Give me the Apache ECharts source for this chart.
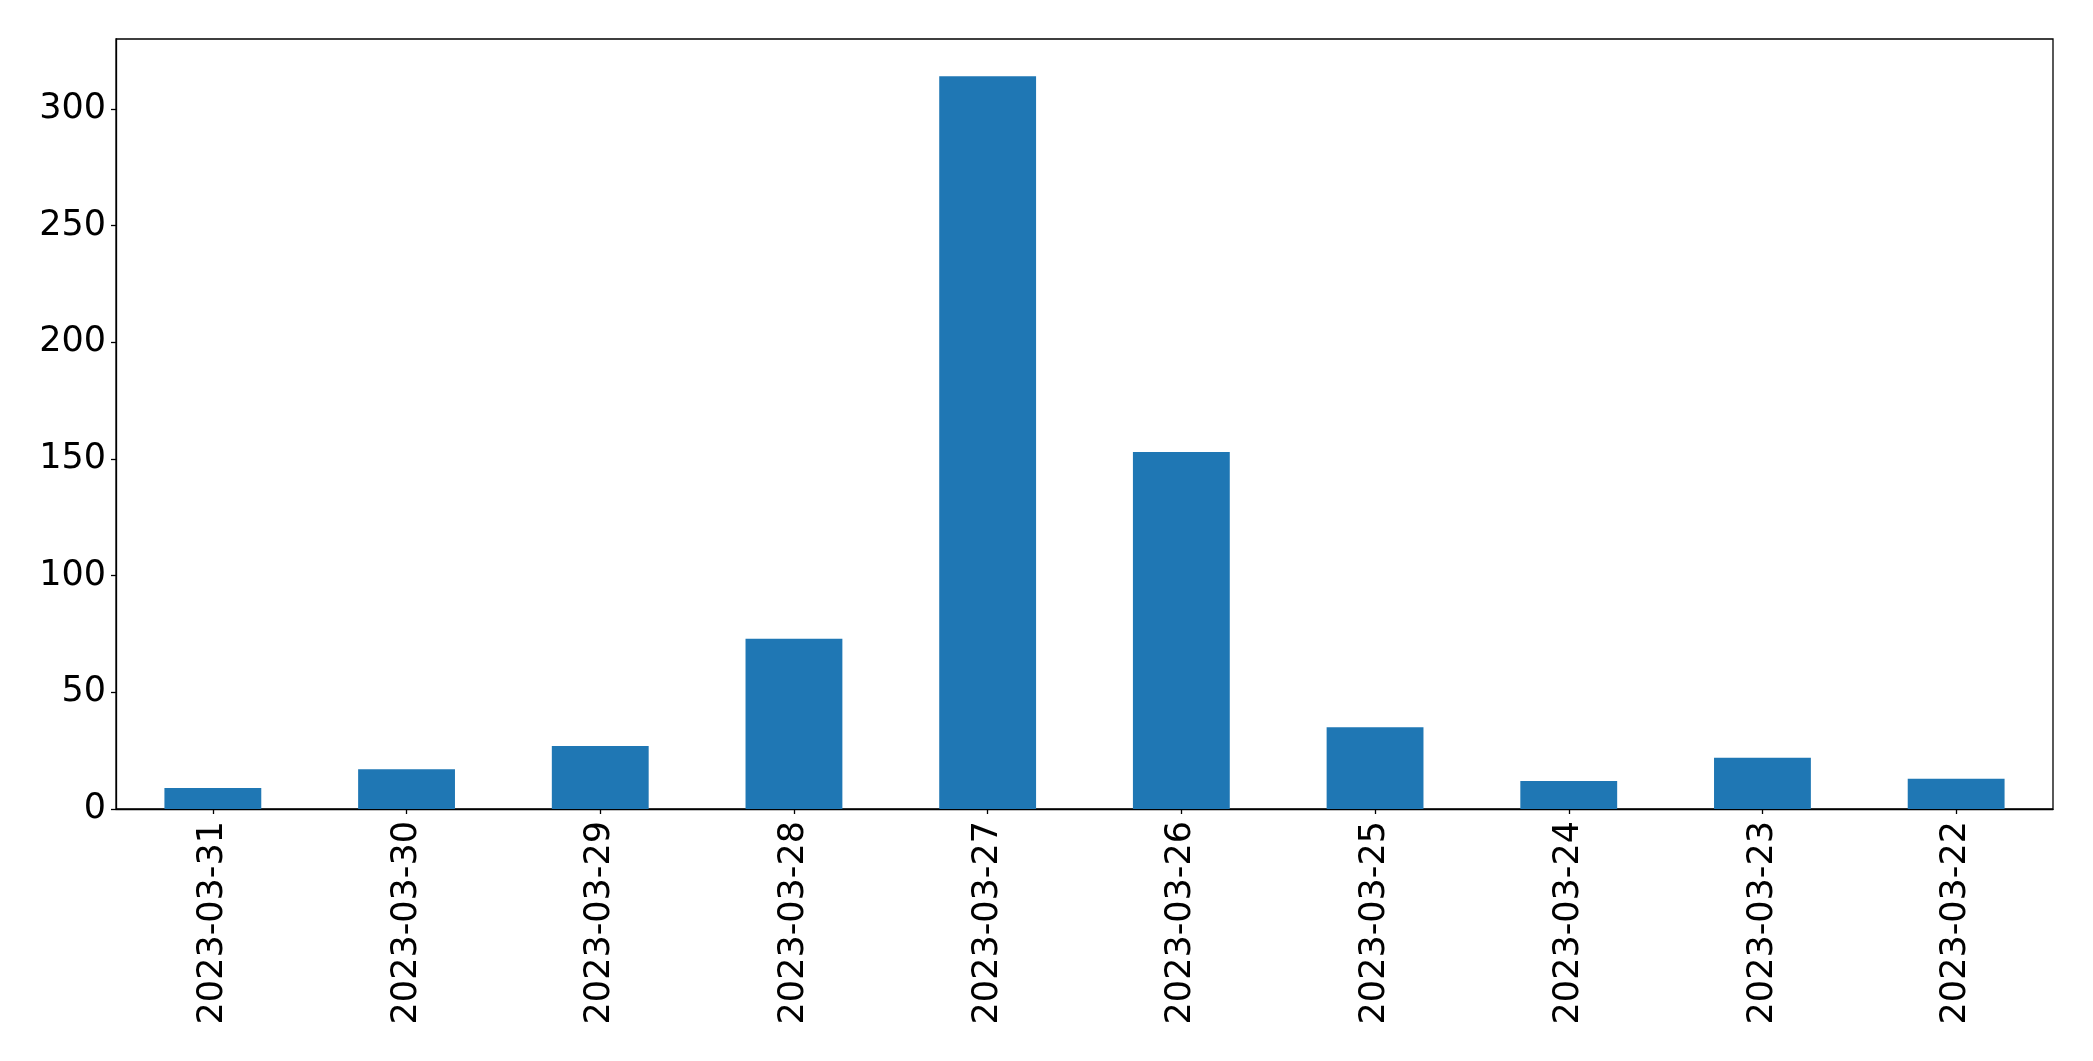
<!DOCTYPE html>
<html>
<head>
<meta charset="utf-8">
<script src="https://cdn.jsdelivr.net/npm/echarts@6/dist/echarts.min.js"></script>
<style>html,body{margin:0;padding:0;background:#fff}#c{width:2093px;height:1061px}</style>
</head>
<body>
<div id="c"></div>
<script>
const categories = ["2023-03-31","2023-03-30","2023-03-29","2023-03-28","2023-03-27","2023-03-26","2023-03-25","2023-03-24","2023-03-23","2023-03-22"];
const values = [9, 17, 27, 73, 314, 153, 35, 12, 22, 13];
const yTicks = [0, 50, 100, 150, 200, 250, 300];

const chart = echarts.init(document.getElementById('c'), null, {renderer: 'canvas'});
chart.setOption({
  animation: false,
  backgroundColor: '#fff',
  grid: {left: 116, right: 40, top: 39, bottom: 252, show: true, borderColor: '#000', borderWidth: 1.3, backgroundColor: 'transparent'},
  xAxis: {
    type: 'category',
    data: categories,
    boundaryGap: true,
    axisLine: {show: true, lineStyle: {color: '#000', width: 1.3}},
    axisTick: {show: true, alignWithLabel: true, length: 5, lineStyle: {color: '#000', width: 1.3}},
    axisLabel: {rotate: 90, margin: 12, fontSize: 35, color: '#000', fontFamily: 'DejaVu Sans', interval: 0},
    splitLine: {show: false}
  },
  yAxis: {
    type: 'value',
    min: 0, max: 330, interval: 50,
    axisLine: {show: true, lineStyle: {color: '#000', width: 1.3}},
    axisTick: {show: true, length: 5, customValues: yTicks, lineStyle: {color: '#000', width: 1.3}},
    axisLabel: {fontSize: 35, color: '#000', fontFamily: 'DejaVu Sans', margin: 10, customValues: yTicks,
      padding: [6, 0, 0, 0],
      formatter: v => yTicks.includes(v) ? String(v) : ''},
    splitLine: {show: false}
  },
  series: [{
    type: 'bar',
    data: values,
    barWidth: '50%',
    itemStyle: {color: '#1f77b4'}
  }]
});
</script>
</body>
</html>
